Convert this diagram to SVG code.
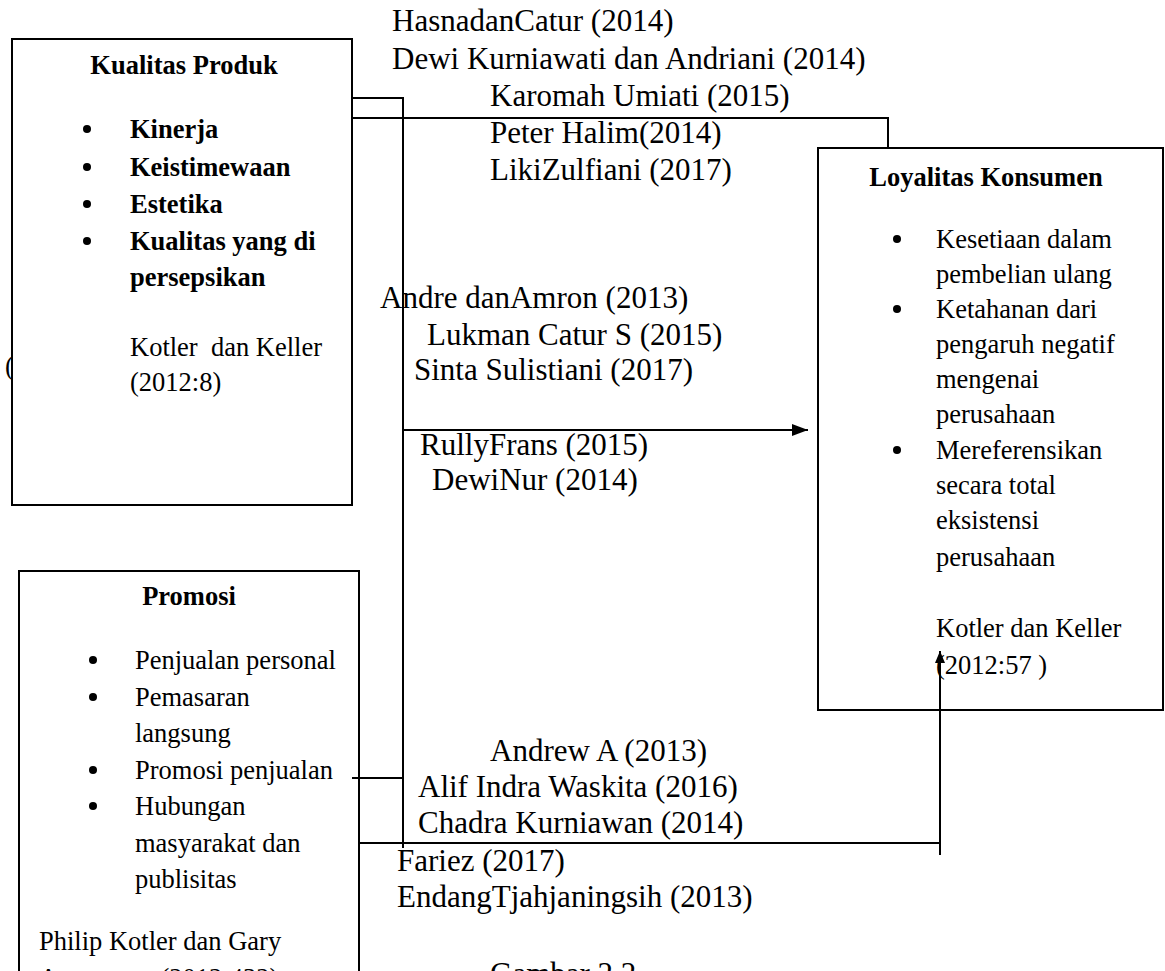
<svg xmlns="http://www.w3.org/2000/svg" width="1165" height="971" viewBox="0 0 1165 971">
<defs>
<style>
.box{fill:#fff;stroke:#000;stroke-width:2}
.t{font-family:"Liberation Serif","Times New Roman",serif;font-size:26.5px;fill:#000}
.b{font-weight:bold}
.lbl{font-family:"Liberation Serif","Times New Roman",serif;font-size:31px;fill:#000}
.ln{fill:none;stroke:#000;stroke-width:2}
.dot{fill:#000}
</style>
<marker id="ah" viewBox="0 0 16 12" refX="16" refY="6" markerWidth="16" markerHeight="12" markerUnits="userSpaceOnUse" orient="auto">
<path d="M0,0 L16,6 L0,12 z" fill="#000"/>
</marker>
<marker id="ahs" viewBox="0 0 12 10" refX="12" refY="5" markerWidth="12" markerHeight="10" markerUnits="userSpaceOnUse" orient="auto">
<path d="M0,0 L12,5 L0,10 z" fill="#000"/>
</marker>
</defs>
<rect width="1165" height="971" fill="#fff"/>
<text class="t" x="5" y="375">(</text>

<g id="kualitas-produk">
<rect class="box" x="12" y="39" width="340" height="466"/>
<text class="t b" x="184" y="74" text-anchor="middle">Kualitas Produk</text>
<circle class="dot" cx="87" cy="129" r="4"/>
<text class="t b" x="130" y="138">Kinerja</text>
<circle class="dot" cx="87" cy="167" r="4"/>
<text class="t b" x="130" y="176">Keistimewaan</text>
<circle class="dot" cx="87" cy="204" r="4"/>
<text class="t b" x="130" y="213">Estetika</text>
<circle class="dot" cx="87" cy="241" r="4"/>
<text class="t b" x="130" y="250">Kualitas yang di</text>
<text class="t b" x="130" y="286">persepsikan</text>
<text class="t" x="130" y="356" xml:space="preserve">Kotler  dan Keller</text>
<text class="t" x="130" y="391">(2012:8)</text>
</g>

<g id="loyalitas-konsumen">
<rect class="box" x="818" y="148" width="345" height="562"/>
<text class="t b" x="986" y="186" text-anchor="middle">Loyalitas Konsumen</text>
<circle class="dot" cx="897" cy="239" r="4"/>
<text class="t" x="936" y="248">Kesetiaan dalam</text>
<text class="t" x="936" y="283">pembelian ulang</text>
<circle class="dot" cx="897" cy="309" r="4"/>
<text class="t" x="936" y="318">Ketahanan dari</text>
<text class="t" x="936" y="353">pengaruh negatif</text>
<text class="t" x="936" y="388">mengenai</text>
<text class="t" x="936" y="423">perusahaan</text>
<circle class="dot" cx="897" cy="450" r="4"/>
<text class="t" x="936" y="459">Mereferensikan</text>
<text class="t" x="936" y="494">secara total</text>
<text class="t" x="936" y="529">eksistensi</text>
<text class="t" x="936" y="566">perusahaan</text>
<text class="t" x="936" y="637">Kotler dan Keller</text>
<text class="t" x="936" y="674">(2012:57 )</text>
</g>

<g id="promosi">
<rect class="box" x="19" y="571" width="340" height="430"/>
<text class="t b" x="189" y="605" text-anchor="middle">Promosi</text>
<circle class="dot" cx="93" cy="660" r="4"/>
<text class="t" x="135" y="669">Penjualan personal</text>
<circle class="dot" cx="93" cy="697" r="4"/>
<text class="t" x="135" y="706">Pemasaran</text>
<text class="t" x="135" y="742">langsung</text>
<circle class="dot" cx="93" cy="770" r="4"/>
<text class="t" x="135" y="779">Promosi penjualan</text>
<circle class="dot" cx="93" cy="806" r="4"/>
<text class="t" x="135" y="815">Hubungan</text>
<text class="t" x="135" y="852">masyarakat dan</text>
<text class="t" x="135" y="888">publisitas</text>
<text class="t" x="39" y="950">Philip Kotler dan Gary</text>
<text class="t" x="39" y="987">Armstrong (2012:432)</text>
</g>

<g id="connectors">
<polyline class="ln" points="352,98 403,98 403,848"/>
<polyline class="ln" points="352,118 888,118 888,148"/>
<line class="ln" x1="403" y1="430" x2="808" y2="430" marker-end="url(#ah)"/>
<line class="ln" x1="352" y1="778" x2="403" y2="778"/>
<line class="ln" x1="359" y1="843" x2="940" y2="843"/>
<line class="ln" x1="940" y1="855" x2="940" y2="651" marker-end="url(#ahs)"/>
</g>

<g id="labels">
<text class="lbl" x="392" y="31">HasnadanCatur (2014)</text>
<text class="lbl" x="392" y="69">Dewi Kurniawati dan Andriani (2014)</text>
<text class="lbl" x="490" y="106">Karomah Umiati (2015)</text>
<text class="lbl" x="490" y="143">Peter Halim(2014)</text>
<text class="lbl" x="490" y="180">LikiZulfiani (2017)</text>
<text class="lbl" x="380" y="308">Andre danAmron (2013)</text>
<text class="lbl" x="427" y="345">Lukman Catur S (2015)</text>
<text class="lbl" x="414" y="380">Sinta Sulistiani (2017)</text>
<text class="lbl" x="420" y="455">RullyFrans (2015)</text>
<text class="lbl" x="432" y="490">DewiNur (2014)</text>
<text class="lbl" x="490" y="761">Andrew A (2013)</text>
<text class="lbl" x="418" y="797">Alif Indra Waskita (2016)</text>
<text class="lbl" x="418" y="833">Chadra Kurniawan (2014)</text>
<text class="lbl" x="397" y="871">Fariez (2017)</text>
<text class="lbl" x="397" y="907">EndangTjahjaningsih (2013)</text>
<text class="lbl" x="490" y="984">Gambar 2.2</text>
</g>
</svg>
